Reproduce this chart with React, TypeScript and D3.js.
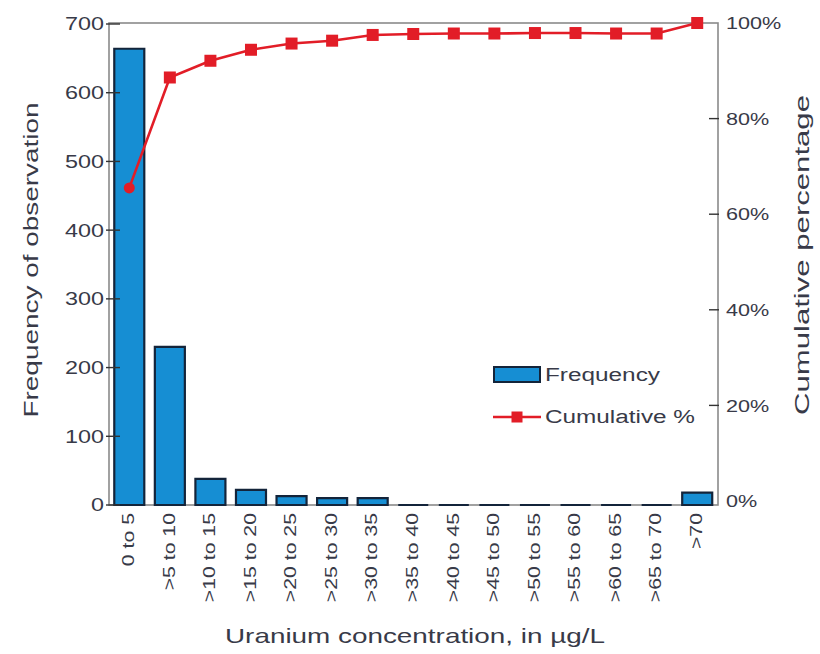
import * as d3 from 'd3'

// values
const categories = ['0 to 5', '>5 to 10', '>10 to 15', '>15 to 20', '>20 to 25', '>25 to 30', '>30 to 35',
  '>35 to 40', '>40 to 45', '>45 to 50', '>50 to 55', '>55 to 60', '>60 to 65', '>65 to 70', '>70']
const frequency = [664, 230, 38, 22, 13, 10, 10, 0, 0, 0, 0, 0, 0, 0, 18]
const cumulative = [65.5, 88.6, 92.1, 94.4, 95.7, 96.3, 97.5, 97.7, 97.8, 97.8, 97.9, 97.9, 97.8, 97.8, 100]
const freqTicks = [0, 100, 200, 300, 400, 500, 600, 700]
const pctTicks = [0, 20, 40, 60, 80, 100]

const width = 820,
      height = 654
const left = 109, right = 717.5, top = 23, bottom = 505
const font = '"Liberation Sans", Arial, sans-serif'
const ink = '#383a48'
const blue = '#168ed3'
const navy = '#13243a'
const red = '#e21d27'

function App() {
  const x = d3.scaleBand<string>().domain(categories).range([left, right]).paddingInner(0.26).paddingOuter(0.13)
  const y = d3.scaleLinear().domain([0, 700]).range([bottom, 24])
  const yr = d3.scaleLinear().domain([0, 100]).range([501, 23])
  const cx = (c: string) => (x(c) as number) + x.bandwidth() / 2

  const path = d3.line<number>()
    .x((_, i) => cx(categories[i]))
    .y(d => yr(d))(cumulative) as string

  // bar outline as a path so that empty classes still show their base line
  const barPath = (c: string, v: number) => {
    const x0 = x(c) as number, w = x.bandwidth()
    return `M${x0},${y(0)}V${y(v)}H${x0 + w}V${y(0)}Z`
  }

  const sq = 12

  return (
    <svg width={width} height={height} viewBox={`0 0 ${width} ${height}`}
      style={{ position: 'absolute', left: 0, top: 0, background: '#fff' }}
      fontFamily={font} fill={ink}>

      {/* frame */}
      <rect x={left} y={top} width={718 - left} height={bottom - top} fill='none' stroke='#8a8a8a' strokeWidth={1.6} />

      {/* bars */}
      {frequency.map((v, i) => (
        <path key={i} d={barPath(categories[i], v)} fill={blue} stroke={navy} strokeWidth={2.2} />
      ))}

      {/* left ticks */}
      {freqTicks.map(t => (
        <g key={t}>
          <line x1={106} x2={120} y1={y(t)} y2={y(t)} stroke='#333' strokeWidth={1.4} />
          <text transform={`translate(104,${y(t)}) scale(1.3,1)`} textAnchor='end' dominantBaseline='central'
            fontSize={18}>{t}</text>
        </g>
      ))}

      {/* right ticks */}
      {pctTicks.map(t => (
        <g key={t}>
          {t > 0 && t < 100 && <line x1={709} x2={719} y1={yr(t)} y2={yr(t)} stroke='#333' strokeWidth={1.4} />}
          <text transform={`translate(726,${yr(t)}) scale(1.27,1)`} textAnchor='start' dominantBaseline='central'
            fontSize={17}>{t}%</text>
        </g>
      ))}

      {/* category labels */}
      {categories.map(c => (
        <text key={c} transform={`translate(${cx(c) - 1},513) rotate(-90) scale(1.25,1)`}
          textAnchor='end' dominantBaseline='central' fontSize={17}>{c}</text>
      ))}

      {/* cumulative line */}
      <path d={path} fill='none' stroke={red} strokeWidth={2.6} />
      {cumulative.map((v, i) => i === 0
        ? <circle key={i} cx={cx(categories[i])} cy={yr(v)} r={5.5} fill={red} />
        : <rect key={i} x={cx(categories[i]) - sq / 2} y={yr(v) - sq / 2} width={sq} height={sq} fill={red} />
      )}

      {/* axis titles */}
      <text transform='translate(38,260) rotate(-90)' textAnchor='middle' fontSize={20}
        textLength={315} lengthAdjust='spacingAndGlyphs'>Frequency of observation</text>
      <text transform='translate(809,255) rotate(-90)' textAnchor='middle' fontSize={20}
        textLength={320} lengthAdjust='spacingAndGlyphs'>Cumulative percentage</text>
      <text x={415} y={643} textAnchor='middle' fontSize={21}
        textLength={380} lengthAdjust='spacingAndGlyphs'>Uranium concentration, in µg/L</text>

      {/* legend */}
      <rect x={494} y={367} width={46} height={15} fill={blue} stroke={navy} strokeWidth={2} />
      <text x={545} y={381} fontSize={18} textLength={115} lengthAdjust='spacingAndGlyphs'>Frequency</text>
      <line x1={493} x2={541} y1={417} y2={417} stroke={red} strokeWidth={2.6} />
      <rect x={517 - 5.5} y={417 - 5.5} width={11} height={11} fill={red} />
      <text x={545} y={423} fontSize={18} textLength={150} lengthAdjust='spacingAndGlyphs'>Cumulative %</text>
    </svg>
  )
}

export default App
